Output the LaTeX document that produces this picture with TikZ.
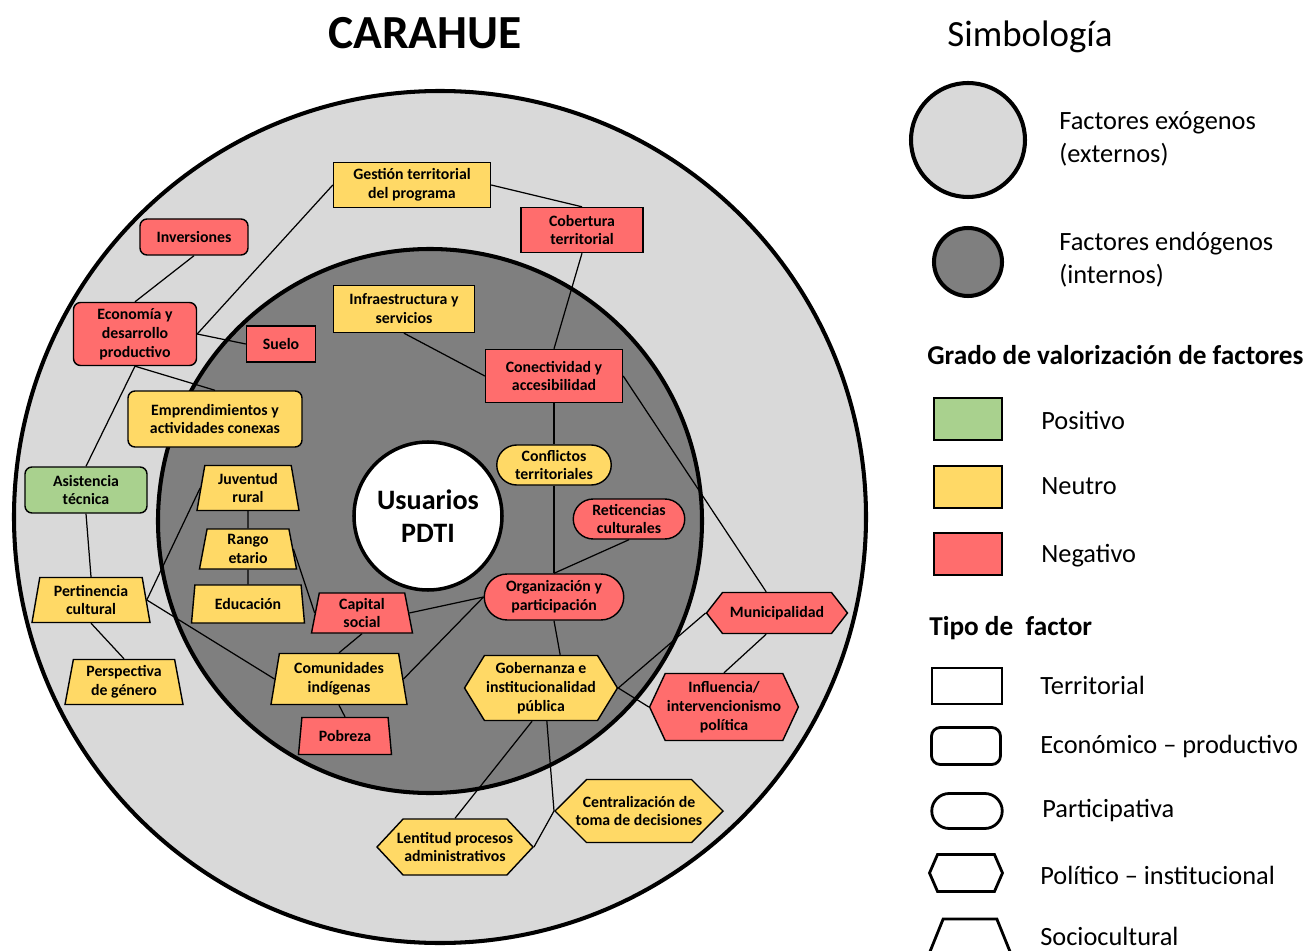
\documentclass[tikz,border=0pt]{standalone}
\usepackage{fontspec}
\setmainfont{Carlito}
\usetikzlibrary{shapes.geometric, shapes.misc, shapes.symbols}
\definecolor{exogris}{HTML}{D9D9D9}
\definecolor{endogris}{HTML}{7F7F7F}
\definecolor{verdepos}{HTML}{A9D18E}
\definecolor{amarilloneu}{HTML}{FFD966}
\definecolor{rojoneg}{HTML}{FF6D6D}
\tikzset{
  fac/.style      = {draw, line width=0.8pt, align=center, inner sep=1pt,
                     font=\bfseries\fontsize{9}{10.8}\selectfont},
  terr/.style     = {fac, rectangle},                                  % territorial
  econ/.style     = {fac, rounded corners=4pt},                        % economico - productivo
  part/.style     = {fac, rounded rectangle},                          % participativa
  poli/.style     = {fac, signal, signal to=east and west,
                     signal pointer angle=110},                        % politico - institucional
  soc/.style      = {fac, trapezium, trapezium angle=77,
                     trapezium stretches body},                        % sociocultural
  positivo/.style = {fill=verdepos},
  neutro/.style   = {fill=amarilloneu},
  negativo/.style = {fill=rojoneg},
  dims/.style 2 args = {minimum width=#1, minimum height=#2},
  link/.style     = {line width=0.7pt},
  ring/.style     = {draw, line width=2.3pt},
  leyenda/.style  = {anchor=west, align=left, inner sep=0pt, font=\fontsize{15}{18.7}\selectfont},
  encabezado/.style = {anchor=west, inner sep=0pt, font=\bfseries\fontsize{15.5}{18}\selectfont},
}

\begin{document}
\begin{tikzpicture}[x=0.2mm, y=-0.2mm]
  \useasboundingbox (0,0) rectangle (1310,951);

  % anillos exogeno / endogeno
  \draw[ring, fill=exogris]  (440,517) circle (8.52cm);
  \draw[ring, fill=endogris] (430,521) circle (5.44cm);

  \node[font=\bfseries\fontsize{27}{32}\selectfont] at (425,33) (titulo) {CARAHUE};
  \node[circle, draw, line width=2pt, fill=white, minimum size=2.96cm, align=center,
        font=\bfseries\fontsize{16}{18.7}\selectfont] at (428,516) (usuarios) {Usuarios\\PDTI};

  % factores exogenos
  \node[terr, neutro,   dims={3.14cm}{0.9cm}]  at (412,185) (gest)   {Gestión territorial\\del programa};
  \node[terr, negativo, dims={2.44cm}{0.9cm}]  at (582,230) (cob)    {Cobertura\\territorial};
  \node[econ, negativo, dims={2.16cm}{0.72cm}] at (194,237) (inv)    {Inversiones};
  \node[econ, negativo, dims={2.46cm}{1.26cm}] at (135,334) (eco)    {Economía y\\desarrollo\\productivo};
  \node[terr, negativo, dims={1.38cm}{0.72cm}] at (281,344) (suelo)  {Suelo};
  \node[econ, neutro,   dims={3.48cm}{1.12cm}] at (215,419) (empr)   {Emprendimientos y\\actividades conexas};
  \node[econ, positivo, dims={2.44cm}{0.92cm}] at ( 86,490) (asist)  {Asistencia\\técnica};
  \node[soc,  neutro,   dims={2.36cm}{0.9cm}]  at ( 91,600) (pert)   {Pertinencia\\cultural};
  \node[soc,  neutro,   dims={2.36cm}{0.9cm}]  at (124,682) (persp)  {Perspectiva\\de género};
  \node[poli, negativo, dims={2.82cm}{0.82cm}, signal pointer angle=104] at (777,613) (muni) {Municipalidad};
  \node[poli, negativo, dims={2.84cm}{1.34cm}, signal pointer angle=130] at (724,707) (infl) {Influencia/\\intervencionismo\\política};
  \node[poli, neutro,   dims={3.12cm}{1.12cm}, signal pointer angle=94, inner xsep=-0.16cm]
        at (455,847) (lent) {Lentitud procesos\\administrativos};
  \node[poli, neutro,   dims={3.36cm}{1.26cm}, signal pointer angle=90, inner xsep=-0.24cm]
        at (639,811) (centr) {Centralización de\\toma de decisiones};

  % factores endogenos
  \node[terr, neutro,   dims={2.82cm}{0.94cm}] at (404,309) (infra)  {Infraestructura y\\servicios};
  \node[terr, negativo, dims={2.74cm}{1.06cm}] at (554,376) (conect) {Conectividad y\\accesibilidad};
  \node[part, neutro,   dims={2.36cm}{0.8cm}]  at (554,465) (confl)  {Conflictos\\territoriales};
  \node[part, negativo, dims={2.3cm}{0.8cm}]   at (629,519) (retic)  {Reticencias\\culturales};
  \node[part, negativo, dims={2.86cm}{0.92cm}] at (554,597) (org)    {Organización y\\participación};
  \node[poli, neutro,   dims={2.98cm}{1.3cm}, signal pointer angle=117] at (541,688) (gob) {Gobernanza e\\institucionalidad\\pública};
  \node[soc,  neutro,   dims={2.04cm}{0.9cm}]  at (248,488) (juv)    {Juventud\\rural};
  \node[soc,  neutro,   dims={1.94cm}{0.8cm}]  at (248,549) (rango)  {Rango\\etario};
  \node[soc,  neutro,   dims={2.26cm}{0.76cm}] at (248,604) (educ)   {Educación};
  \node[soc,  negativo, dims={2.02cm}{0.8cm}]  at (362,613) (capital) {Capital\\social};
  \node[soc,  neutro,   dims={2.72cm}{1.02cm}] at (339,679) (comun)  {Comunidades\\indígenas};
  \node[soc,  negativo, dims={1.86cm}{0.74cm}] at (345,736) (pobreza) {Pobreza};

  % relaciones
  \draw[link] (inv.south)    -- (eco.north);
  \draw[link] (eco.east)     -- (gest.west);
  \draw[link] (eco.east)     -- (suelo.west);
  \draw[link] (eco.south)    -- (empr.north);
  \draw[link] (eco.south)    -- (asist.north);
  \draw[link] (asist.south)  -- (pert.north);
  \draw[link] (pert.south)   -- (persp.north);
  \draw[link] (pert.east)    -- (juv.west);
  \draw[link] (pert.east)    -- (comun.west);
  \draw[link] (juv.south)    -- (rango.north);
  \draw[link] (rango.south)  -- (educ.north);
  \draw[link] (rango.east)   -- (capital.west);
  \draw[link] (capital.south) -- (comun.north);
  \draw[link] (comun.south)  -- (pobreza.north);
  \draw[link] (capital.east) -- (org.west);
  \draw[link] (comun.east)   -- (org.west);
  \draw[link] (gest.east)    -- (cob.north);
  \draw[link] (cob.south)    -- (conect.north);
  \draw[link] (infra.south)  -- (conect.west);
  \draw[link] (conect.south) -- (confl.north);
  \draw[link] (confl.south)  -- (org.north);
  \draw[link] (retic.south)  -- (org.north);
  \draw[link] (conect.east)  -- (muni.117);
  \draw[link] (org.south)    -- (gob.60);
  \draw[link] (gob.east)     -- (muni.west);
  \draw[link] (gob.east)     -- (infl.west);
  \draw[link] (muni.243)     -- (infl.north);
  \draw[link] (gob.255)      -- (lent.north);
  \draw[link] (gob.280)      -- (centr.west);
  \draw[link] (centr.west)   -- (lent.east);

  % simbologia
  \node[font=\fontsize{21}{25}\selectfont] at (1030,37) (simb) {Simbología};
  \node[circle, ring, fill=exogris,  minimum size=2.28cm] at (968,140) (legexo)  {};
  \node[circle, ring, fill=endogris, minimum size=1.36cm] at (968,262) (legendo) {};
  \node[leyenda] at (1059,139) (txtexo)  {Factores exógenos\\(externos)};
  \node[leyenda] at (1059,260) (txtendo) {Factores endógenos\\(internos)};

  \node[encabezado] at (927,355) (grado) {Grado de valorización de factores};
  \node[draw, line width=1.2pt, positivo, dims={1.36cm}{0.84cm}] at (968,419) (legpos) {};
  \node[draw, line width=1.2pt, neutro,   dims={1.36cm}{0.84cm}] at (968,487) (legneu) {};
  \node[draw, line width=1.2pt, negativo, dims={1.36cm}{0.84cm}] at (968,554) (legneg) {};
  \node[leyenda] at (1041,420) (txtpos) {Positivo};
  \node[leyenda] at (1041,486) (txtneu) {Neutro};
  \node[leyenda] at (1041,556) (txtneg) {Negativo};

  \node[encabezado] at (929,628) (tipo) {Tipo de\ \ factor};
  \node[terr, line width=1.6pt, dims={1.4cm}{0.72cm}]  at (967,686) (legterr) {};
  \node[econ, line width=1.6pt, dims={1.38cm}{0.74cm}, rounded corners=5pt] at (966,746) (legecon) {};
  \node[part, line width=1.6pt, dims={1.48cm}{0.7cm}]  at (967,811) (legpart) {};
  \node[poli, line width=1.6pt, dims={1.46cm}{0.74cm}, signal pointer angle=133] at (966,873) (legpoli) {};
  \node[soc,  line width=1.6pt, inner ysep=0.4cm, minimum width=1.72cm, trapezium angle=68] at (970,939) (legsoc) {};
  \node[leyenda] at (1040,685) (txtterr) {Territorial};
  \node[leyenda] at (1040,746) (txtecon) {Económico – productivo};
  \node[leyenda] at (1042,811) (txtpart) {Participativa};
  \node[leyenda] at (1040,875) (txtpoli) {Político – institucional};
  \node[leyenda] at (1040,936) (txtsoc)  {Sociocultural};
\end{tikzpicture}
\end{document}
